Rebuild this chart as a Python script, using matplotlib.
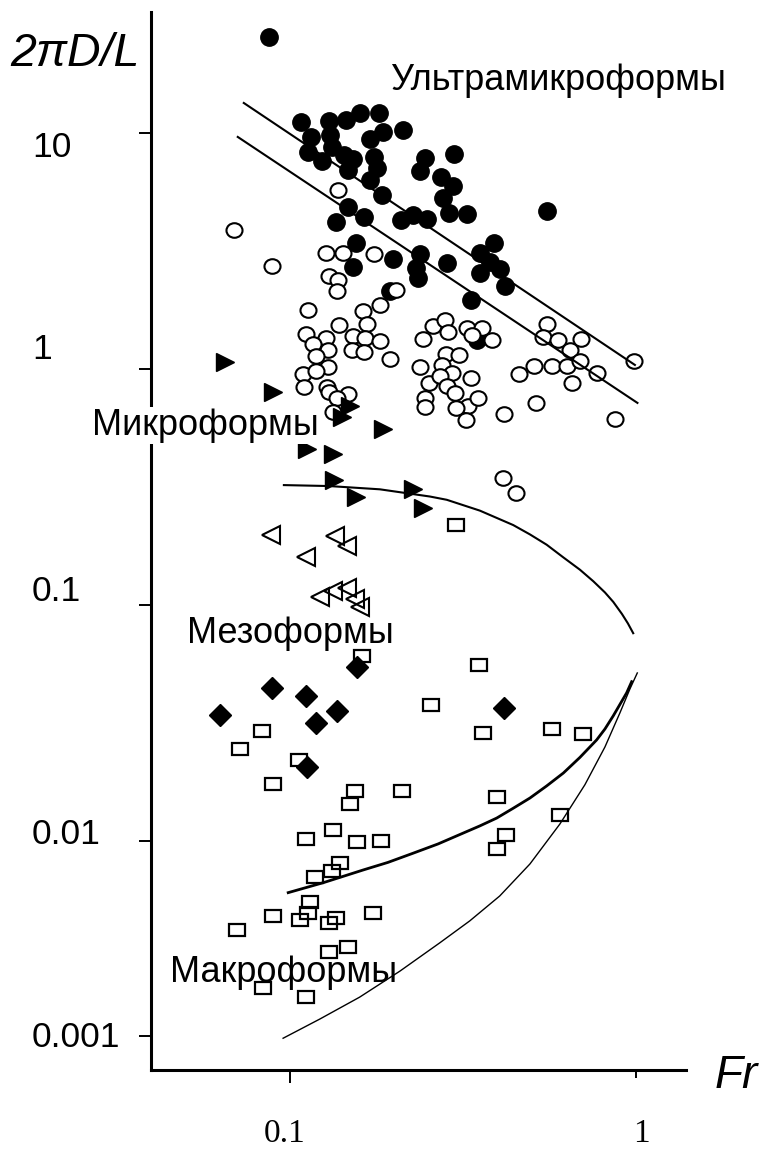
import numpy as np
import matplotlib
matplotlib.use('Agg')
import matplotlib.pyplot as plt
from matplotlib.markers import MarkerStyle
from matplotlib.ticker import NullLocator
from matplotlib.transforms import Affine2D, ScaledTranslation

plt.rcParams['font.family'] = ['Liberation Sans', 'DejaVu Sans']

# --- data (Fr, 2piD/L) ---
# ultramicroforms, filled circles
fr_ultra = [0.0871, 0.108, 0.130, 0.145, 0.159, 0.181, 0.115, 0.131, 0.170, 0.186,
            0.212, 0.113, 0.124, 0.132, 0.143, 0.152, 0.147, 0.175, 0.178, 0.170,
            0.185, 0.245, 0.238, 0.299, 0.273, 0.296, 0.277, 0.289, 0.324, 0.147,
            0.164, 0.136, 0.210, 0.227, 0.249, 0.552, 0.155, 0.152, 0.198, 0.238,
            0.232, 0.234, 0.284, 0.354, 0.389, 0.379, 0.404, 0.354, 0.418, 0.333,
            0.195, 0.348]
h_ultra = [25.6, 11.1, 11.2, 11.4, 12.2, 12.2, 9.65, 9.8, 9.4, 10.1,
           10.3, 8.33, 7.61, 8.75, 8.07, 7.76, 6.97, 7.94, 7.09, 6.32,
           5.46, 7.81, 6.9, 8.15, 6.49, 5.96, 5.29, 4.57, 4.54, 4.84,
           4.39, 4.18, 4.28, 4.49, 4.31, 4.69, 3.43, 2.71, 2.92, 3.07,
           2.67, 2.42, 2.81, 3.09, 3.43, 2.85, 2.65, 2.54, 2.25, 1.96,
           2.13, 1.32]

# microforms, open circles
fr_micro = [0.0689, 0.0889, 0.138, 0.127, 0.142, 0.175, 0.130, 0.138, 0.137, 0.202,
            0.113, 0.163, 0.182, 0.139, 0.167, 0.111, 0.127, 0.117, 0.129, 0.152,
            0.165, 0.182, 0.151, 0.164, 0.119, 0.129, 0.109, 0.119, 0.110, 0.128,
            0.130, 0.147, 0.137, 0.133, 0.195, 0.260, 0.281, 0.243, 0.286, 0.325,
            0.358, 0.383, 0.337, 0.238, 0.283, 0.309, 0.276, 0.294, 0.333, 0.252,
            0.271, 0.285, 0.300, 0.245, 0.245, 0.328, 0.350, 0.302, 0.323, 0.416,
            0.460, 0.507, 0.571, 0.632, 0.652, 0.770, 0.552, 0.538, 0.595, 0.645,
            0.693, 0.688, 0.985, 0.516, 0.871, 0.412, 0.450]
h_micro = [3.88, 2.73, 5.73, 3.10, 3.09, 3.07, 2.48, 2.38, 2.13, 2.17,
           1.78, 1.76, 1.87, 1.54, 1.55, 1.41, 1.35, 1.28, 1.20, 1.38,
           1.35, 1.31, 1.20, 1.18, 1.14, 1.02, 0.948, 0.983, 0.841, 0.835,
           0.801, 0.786, 0.751, 0.659, 1.10, 1.52, 1.61, 1.34, 1.44, 1.49,
           1.49, 1.33, 1.39, 1.02, 1.16, 1.15, 1.04, 0.965, 0.913, 0.870,
           0.931, 0.849, 0.789, 0.751, 0.692, 0.700, 0.751, 0.681, 0.610, 0.642,
           0.951, 1.03, 1.03, 1.03, 0.875, 0.965, 1.55, 1.36, 1.32, 1.20,
           1.34, 1.08, 1.08, 0.718, 0.616, 0.346, 0.299]

# filled triangles
fr_tri = [0.0649, 0.0895, 0.149, 0.141, 0.186, 0.112, 0.133, 0.134, 0.155, 0.227, 0.243]
h_tri = [1.07, 0.801, 0.697, 0.626, 0.557, 0.458, 0.438, 0.340, 0.288, 0.309, 0.257]

# open triangles
fr_otri = [0.088, 0.135, 0.146, 0.111, 0.122, 0.133, 0.146, 0.154, 0.159]
h_otri = [0.198, 0.196, 0.177, 0.159, 0.108, 0.115, 0.118, 0.106, 0.0984]

# filled diamonds
fr_dia = [0.156, 0.0885, 0.111, 0.0628, 0.119, 0.137, 0.112, 0.416]
h_dia = [0.0548, 0.0446, 0.0411, 0.0342, 0.0317, 0.0356, 0.0205, 0.0367]

# open squares
fr_sq = [0.162, 0.351, 0.255, 0.0832, 0.072, 0.362, 0.572, 0.703, 0.106, 0.0891,
         0.154, 0.149, 0.211, 0.396, 0.603, 0.111, 0.133, 0.156, 0.183, 0.420,
         0.396, 0.140, 0.132, 0.118, 0.114, 0.113, 0.107, 0.0891, 0.0704, 0.130,
         0.136, 0.174, 0.130, 0.147, 0.0837, 0.111, 0.302]
h_sq = [0.0608, 0.0557, 0.0377, 0.0292, 0.0245, 0.0288, 0.0297, 0.0283, 0.0220, 0.0174,
        0.0163, 0.0143, 0.0163, 0.0154, 0.0129, 0.0102, 0.0111, 0.00992, 0.0100, 0.0106,
        0.00913, 0.00774, 0.00704, 0.00656, 0.00488, 0.00429, 0.00394, 0.00413, 0.00350, 0.00381,
        0.00402, 0.00426, 0.00271, 0.00287, 0.00176, 0.00158, 0.218]

# boundary lines
fr_line1 = [0.0736, 0.993]
h_line1 = [13.4, 1.04]
fr_line2 = [0.0707, 1.01]
h_line2 = [9.62, 0.718]

fr_arc = [0.0961, 0.130, 0.182, 0.254, 0.284, 0.354, 0.442, 0.494, 0.552, 0.617,
          0.689, 0.753, 0.8135, 0.860, 0.911, 0.948, 0.982]
h_arc = [0.322, 0.319, 0.309, 0.288, 0.279, 0.251, 0.218, 0.199, 0.180, 0.159,
         0.141, 0.126, 0.113, 0.103, 0.0916, 0.0835, 0.0759]

fr_thick = [0.0989, 0.125, 0.163, 0.192, 0.227, 0.268, 0.317, 0.354, 0.396, 0.441,
            0.494, 0.552, 0.617, 0.689, 0.770, 0.8135, 0.860, 0.940, 0.972]
h_thick = [0.00543, 0.00611, 0.0071, 0.00776, 0.00865, 0.00965, 0.0108, 0.01158, 0.0125, 0.01373,
           0.0152, 0.0171, 0.0194, 0.0226, 0.0268, 0.0298, 0.0339, 0.0424, 0.0473]

fr_thin = [0.0956, 0.122, 0.159, 0.208, 0.271, 0.331, 0.404, 0.494, 0.603, 0.712,
           0.8135, 0.899, 0.961, 1.009]
h_thin = [0.000973, 0.00122, 0.00158, 0.00215, 0.0030, 0.00389, 0.00522, 0.00762, 0.0118, 0.0173,
          0.0250, 0.0349, 0.0441, 0.0515]

ytick_vals = [0.001, 0.01, 0.1, 1, 10]
ytick_labels = ['0.001', '0.01', '0.1', '1', '10']
xtick_vals = [0.1, 1]
xtick_labels = ['0.1', '1']

# the original draws the lowest decade shorter than the others
K = 195 / 236


def fwd(y):
    t = np.log10(np.clip(np.asarray(y, dtype=float), 1e-12, None))
    return np.where(t >= -2, t, -2 + (t + 2) * K)


def inv(t):
    t = np.asarray(t, dtype=float)
    return np.where(t >= -2, 10.0 ** t, 10.0 ** (-2 + (t + 2) / K))


fig = plt.figure(figsize=(7.6, 11.51), dpi=100)
ax = fig.add_axes([0.1987, 0.0704, 0.7039, 0.9192])

ax.set_xscale('log')
ax.set_yscale('function', functions=(fwd, inv))
ax.set_xlim(0.0397, 1.395)
ax.set_ylim(0.000669, 32.56)

oval = MarkerStyle('o', transform=Affine2D().scale(1.1, 1.0))
rect = MarkerStyle('s', transform=Affine2D().scale(1.33, 1.0))

ax.plot(fr_ultra, h_ultra, ls='none', marker='o', ms=12.5, mfc='black', mec='black')
ax.plot(fr_micro, h_micro, ls='none', marker=oval, ms=10.5, mfc='white', mec='black', mew=1.5)
ax.plot(fr_tri, h_tri, ls='none', marker='>', ms=13, mfc='black', mec='black')
ax.plot(fr_otri, h_otri, ls='none', marker='<', ms=12.5, mfc='none', mec='black', mew=1.5)
ax.plot(fr_sq, h_sq, ls='none', marker=rect, ms=9, mfc='none', mec='black', mew=1.6)
ax.plot(fr_dia, h_dia, ls='none', marker='D', ms=11, mfc='black', mec='black')

ax.plot(fr_line1, h_line1, color='black', lw=1.5)
ax.plot(fr_line2, h_line2, color='black', lw=1.5)
ax.plot(fr_arc, h_arc, color='black', lw=1.5)
ax.plot(fr_thick, h_thick, color='black', lw=2.0)
ax.plot(fr_thin, h_thin, color='black', lw=1.0)

for side in ['top', 'right']:
    ax.spines[side].set_visible(False)
for side in ['left', 'bottom']:
    ax.spines[side].set_linewidth(2.2)

ax.tick_params(axis='y', direction='out', length=8.6, width=1.4, pad=77)
ax.tick_params(axis='x', direction='out', length=9.4, width=1.4, pad=25.8)
ax.xaxis.set_minor_locator(NullLocator())
ax.yaxis.set_minor_locator(NullLocator())

ax.set_yticks(ytick_vals, ytick_labels, fontsize=25.5, ha='left', va='center')
ax.set_xticks(xtick_vals, xtick_labels, fontsize=24, fontfamily='Liberation Serif')

# tick labels in the original sit a little off their ticks (pixels, up = +)
y_shift = [-2, 6, 13, 19, -15]
for lab, dy in zip(ax.get_yticklabels(), y_shift):
    lab.set_transform(lab.get_transform() + ScaledTranslation(0, dy / 100, fig.dpi_scale_trans))
x_shift = [-5, 5]
for lab, dx in zip(ax.get_xticklabels(), x_shift):
    lab.set_transform(lab.get_transform() + ScaledTranslation(dx / 100, 0, fig.dpi_scale_trans))
ax.xaxis.get_major_ticks()[1].tick1line.set_markersize(5.8)

ax.text(-0.2636, 0.9492, '2πD/L', transform=ax.transAxes, fontsize=33.5,
        fontstyle='italic', ha='left', va='baseline', clip_on=False)
ax.text(1.054, -0.0173, 'Fr', transform=ax.transAxes, fontsize=33,
        fontstyle='italic', ha='left', va='baseline', clip_on=False)

ax.text(0.4467, 0.9263, 'Ультрамикроформы', transform=ax.transAxes, fontsize=26,
        ha='left', va='baseline', clip_on=False)
ax.text(-0.1108, 0.6002, 'Микроформы', transform=ax.transAxes, fontsize=26,
        ha='left', va='baseline', clip_on=False,
        bbox=dict(facecolor='white', edgecolor='none', pad=1))
ax.text(0.0679, 0.4033, 'Мезоформы', transform=ax.transAxes, fontsize=26,
        ha='left', va='baseline', clip_on=False)
ax.text(0.0355, 0.0835, 'Макроформы', transform=ax.transAxes, fontsize=26,
        ha='left', va='baseline', clip_on=False)

fig.savefig('out.png', dpi=100)
